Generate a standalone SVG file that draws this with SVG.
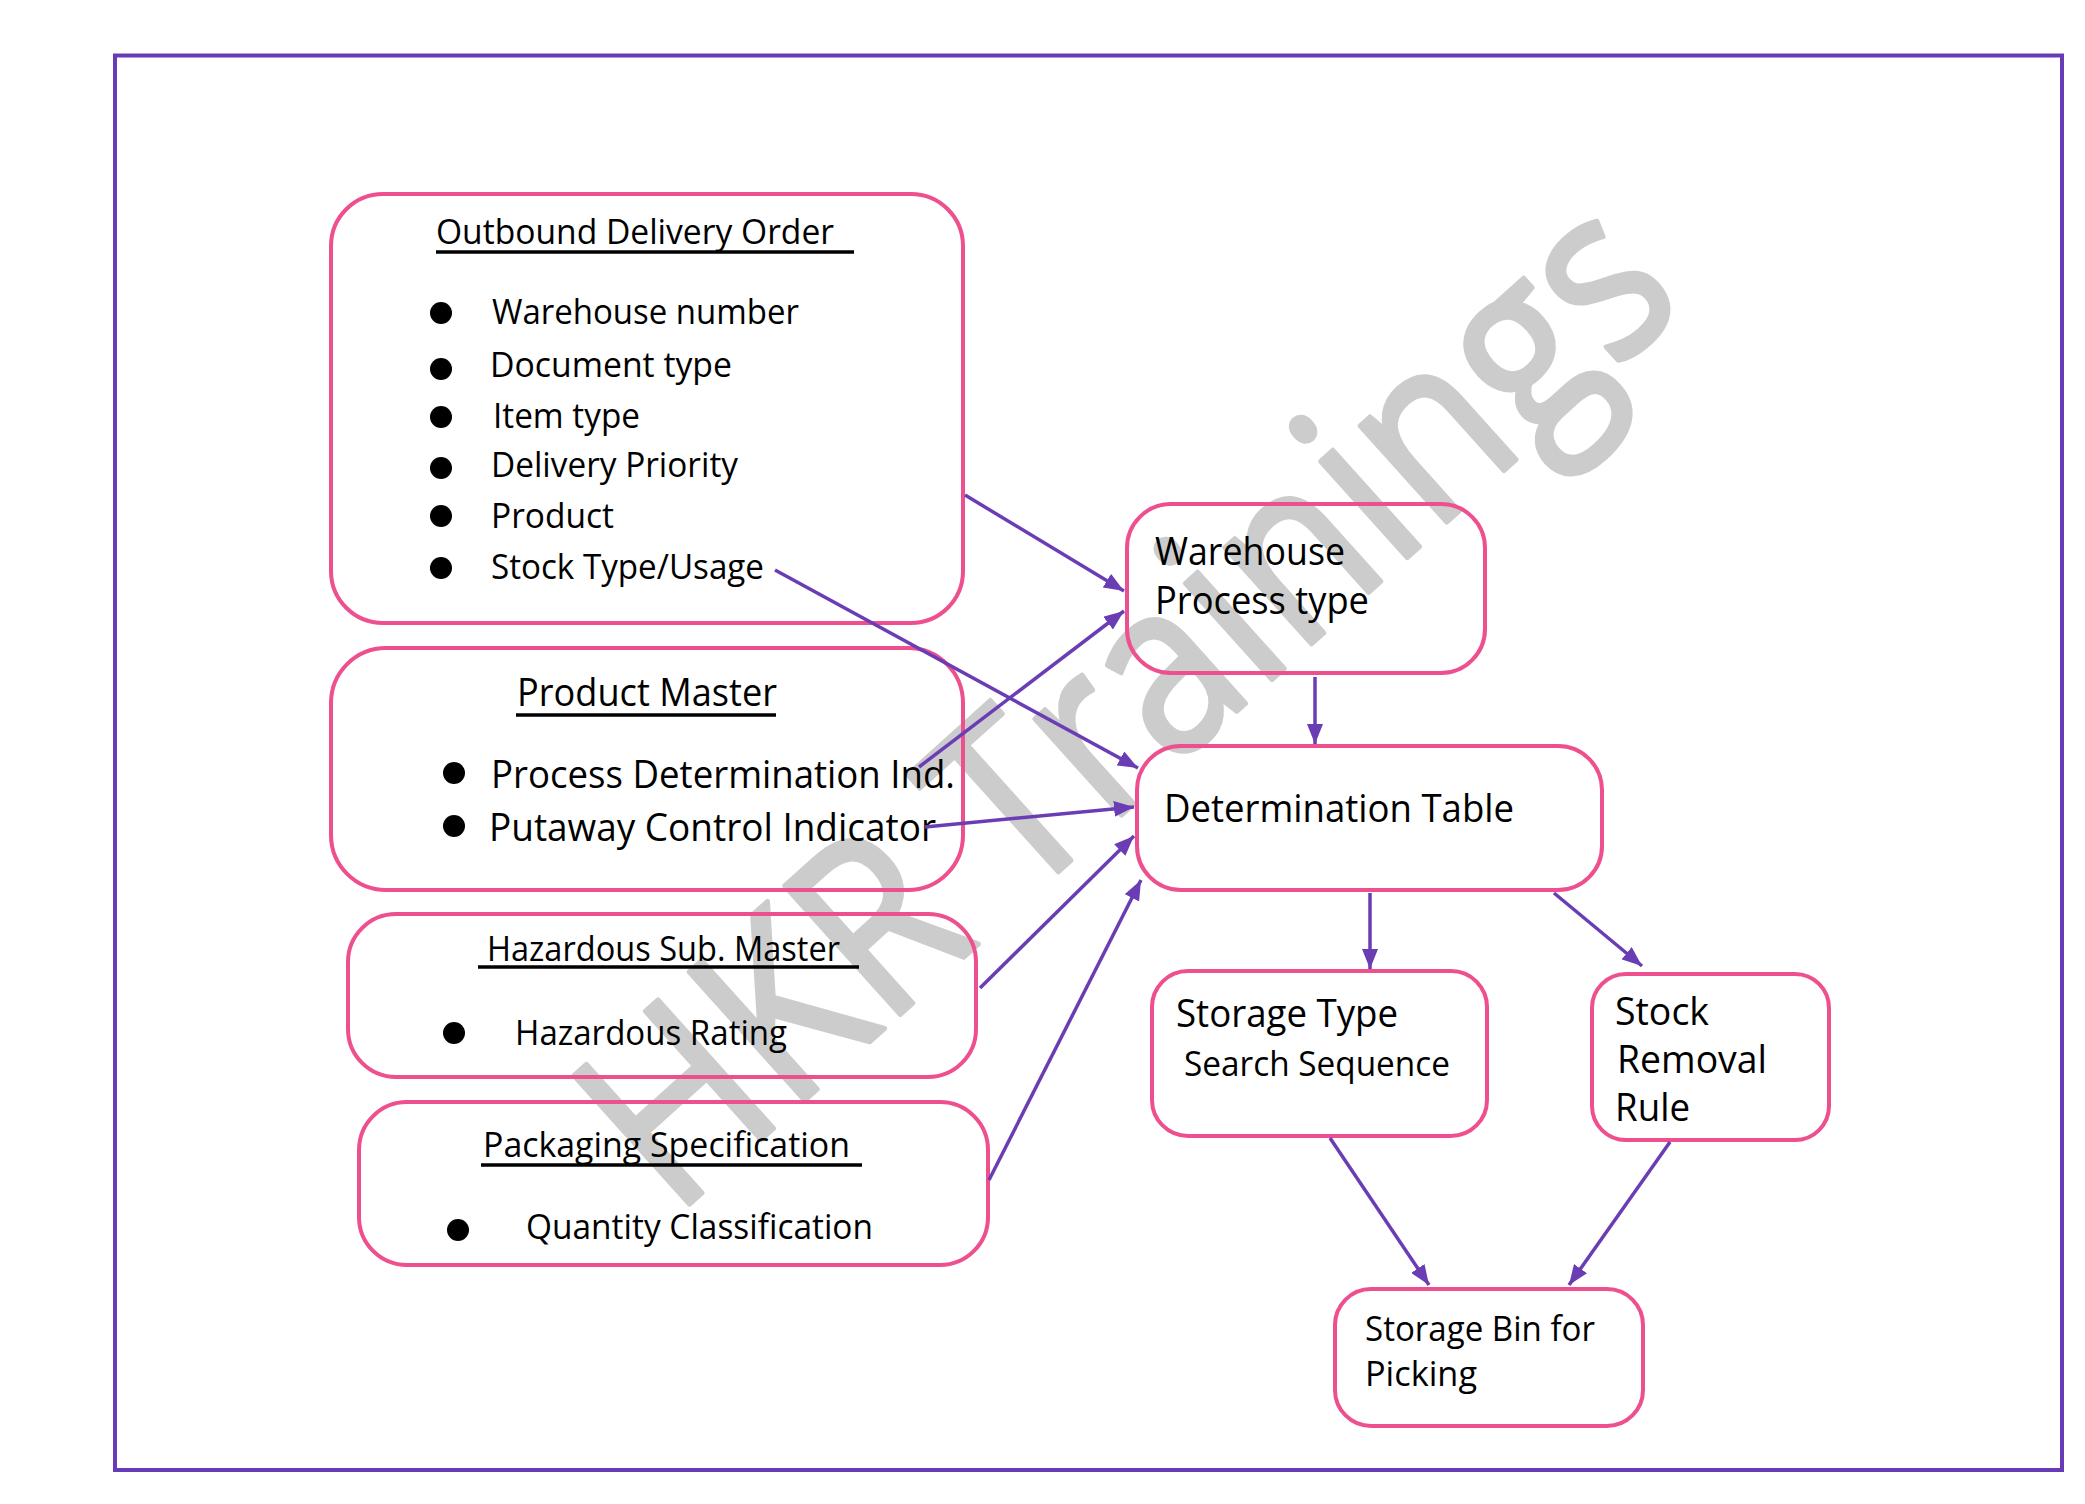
<svg xmlns="http://www.w3.org/2000/svg" width="2085" height="1504" viewBox="0 0 2085 1504">
<style>
.box{fill:none;stroke:#ee4f8e;stroke-width:4}
.t{font-family:"Open Sans","Liberation Sans",sans-serif;fill:#000}
.s35{font-size:35px}
.s39{font-size:39px}
.ul{stroke:#000;stroke-width:3.5}
.bul{fill:#000}
.con line{stroke:#6a3db4;stroke-width:3.5;marker-end:url(#ah)}
</style>
<defs>
<marker id="ah" markerUnits="userSpaceOnUse" viewBox="0 0 20 16" refX="20" refY="8" markerWidth="20" markerHeight="16" orient="auto">
<path d="M0,0 L20,8 L0,16 z" fill="#6a3db4"/>
</marker>
</defs>
<rect width="2085" height="1504" fill="#fff"/>
<text id="watermark" x="0" y="0" transform="translate(674,1218) rotate(-42)" font-family="'Open Sans','Liberation Sans',sans-serif" font-size="242" fill="#cccccc" stroke="#cccccc" stroke-width="5" stroke-linejoin="round" textLength="1365" lengthAdjust="spacingAndGlyphs">HKR Trainings</text>
<rect id="frame" x="115" y="55.5" width="1947" height="1414.5" fill="none" stroke="#673ab7" stroke-width="4"/>

<g id="outbound">
<rect class="box" x="331" y="194" width="632" height="429" rx="52"/>
<text class="t s35" x="436" y="244" textLength="398" lengthAdjust="spacingAndGlyphs">Outbound Delivery Order</text>
<line class="ul" x1="436" y1="252" x2="854" y2="252"/>
<circle class="bul" cx="441" cy="313" r="11"/>
<circle class="bul" cx="441" cy="369" r="11"/>
<circle class="bul" cx="441" cy="417" r="11"/>
<circle class="bul" cx="441" cy="468" r="11"/>
<circle class="bul" cx="441" cy="516" r="11"/>
<circle class="bul" cx="441" cy="568" r="11"/>
<text class="t s35" x="492" y="324" textLength="307" lengthAdjust="spacingAndGlyphs">Warehouse number</text>
<text class="t s35" x="490" y="377" textLength="242" lengthAdjust="spacingAndGlyphs">Document type</text>
<text class="t s35" x="493" y="428" textLength="147" lengthAdjust="spacingAndGlyphs">Item type</text>
<text class="t s35" x="491" y="477" textLength="247" lengthAdjust="spacingAndGlyphs">Delivery Priority</text>
<text class="t s35" x="491" y="528" textLength="123" lengthAdjust="spacingAndGlyphs">Product</text>
<text class="t s35" x="491" y="579" textLength="273" lengthAdjust="spacingAndGlyphs">Stock Type/Usage</text>
</g>

<g id="product-master">
<rect class="box" x="331" y="648" width="632" height="242" rx="55"/>
<text class="t s39" x="517" y="706" textLength="260" lengthAdjust="spacingAndGlyphs">Product Master</text>
<line class="ul" x1="516" y1="715" x2="776" y2="715"/>
<circle class="bul" cx="454" cy="773" r="11"/>
<circle class="bul" cx="454" cy="826" r="11"/>
<text class="t s39" x="491" y="788" textLength="464" lengthAdjust="spacingAndGlyphs">Process Determination Ind.</text>
<text class="t s39" x="489" y="841" textLength="447" lengthAdjust="spacingAndGlyphs">Putaway Control Indicator</text>
</g>

<g id="hazardous">
<rect class="box" x="348" y="914" width="628" height="163" rx="48"/>
<text class="t s35" x="487" y="961" textLength="353" lengthAdjust="spacingAndGlyphs">Hazardous Sub. Master</text>
<line class="ul" x1="478" y1="967" x2="859" y2="967"/>
<circle class="bul" cx="454" cy="1033" r="11"/>
<text class="t s35" x="515" y="1045" textLength="272" lengthAdjust="spacingAndGlyphs">Hazardous Rating</text>
</g>

<g id="packaging">
<rect class="box" x="359" y="1102" width="629" height="163" rx="48"/>
<text class="t s35" x="483" y="1157" textLength="367" lengthAdjust="spacingAndGlyphs">Packaging Specification</text>
<line class="ul" x1="481" y1="1165" x2="862" y2="1165"/>
<circle class="bul" cx="458" cy="1230" r="11"/>
<text class="t s35" x="526" y="1239" textLength="347" lengthAdjust="spacingAndGlyphs">Quantity Classification</text>
</g>

<g id="warehouse-process-type">
<rect class="box" x="1127" y="504" width="358" height="169" rx="44"/>
<text class="t s39" x="1155" y="565" textLength="190" lengthAdjust="spacingAndGlyphs">Warehouse</text>
<text class="t s39" x="1155" y="614" textLength="214" lengthAdjust="spacingAndGlyphs">Process type</text>
</g>

<g id="determination-table">
<rect class="box" x="1137" y="746" width="465" height="144" rx="44"/>
<text class="t s39" x="1164" y="822" textLength="350" lengthAdjust="spacingAndGlyphs">Determination Table</text>
</g>

<g id="storage-type">
<rect class="box" x="1152" y="971" width="335" height="165" rx="36"/>
<text class="t s39" x="1176" y="1027" textLength="222" lengthAdjust="spacingAndGlyphs">Storage Type</text>
<text class="t s35" x="1184" y="1076" textLength="266" lengthAdjust="spacingAndGlyphs">Search Sequence</text>
</g>

<g id="stock-removal-rule">
<rect class="box" x="1592" y="974" width="237" height="166" rx="34"/>
<text class="t s39" x="1615" y="1025" textLength="94" lengthAdjust="spacingAndGlyphs">Stock</text>
<text class="t s39" x="1617" y="1073" textLength="150" lengthAdjust="spacingAndGlyphs">Removal</text>
<text class="t s39" x="1615" y="1121" textLength="75" lengthAdjust="spacingAndGlyphs">Rule</text>
</g>

<g id="storage-bin">
<rect class="box" x="1335" y="1289" width="308" height="137" rx="36"/>
<text class="t s35" x="1365" y="1341" textLength="230" lengthAdjust="spacingAndGlyphs">Storage Bin for</text>
<text class="t s35" x="1365" y="1386" textLength="112" lengthAdjust="spacingAndGlyphs">Picking</text>
</g>

<g id="connectors" class="con">
<line x1="965" y1="495" x2="1124" y2="591"/>
<line x1="775" y1="570" x2="1138" y2="768"/>
<line x1="919" y1="767" x2="1124" y2="611"/>
<line x1="925" y1="827" x2="1134" y2="807"/>
<line x1="980" y1="988" x2="1134" y2="836"/>
<line x1="989" y1="1180" x2="1141" y2="880"/>
<line x1="1315" y1="677" x2="1315" y2="744"/>
<line x1="1370" y1="893" x2="1370" y2="969"/>
<line x1="1554" y1="893" x2="1642" y2="966"/>
<line x1="1330" y1="1138" x2="1429" y2="1285"/>
<line x1="1670" y1="1142" x2="1569" y2="1285"/>
</g>
</svg>
